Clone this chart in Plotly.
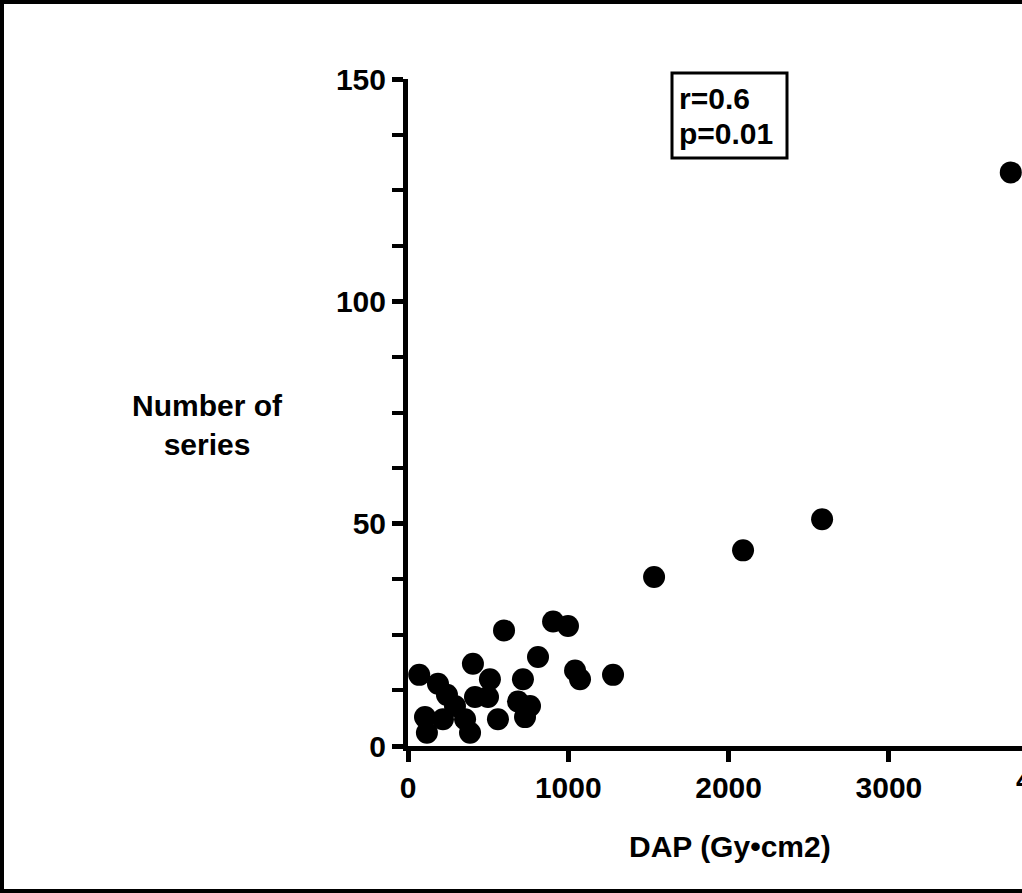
import plotly.graph_objects as go

dap = [70, 106, 118, 187, 218, 243, 293, 356, 387, 405, 418, 499, 511, 561, 599,
       686, 717, 730, 761, 811, 905, 998, 1042, 1073, 1279, 1535, 2090, 2583, 3760]
series = [16, 6.5, 3, 14, 6, 11.5, 9, 6, 3, 18.5, 11, 11, 15, 6, 26,
          10, 15, 6.5, 9, 20, 28, 27, 17, 15, 16, 38, 44, 51, 129]

x_ticks = [0, 1000, 2000, 3000]
y_ticks = [0, 50, 100, 150]
x_cut_tick = 4000  # tick beyond the cropped right edge

FONT = "Liberation Sans, Arial, Helvetica, sans-serif"

fig = go.Figure(go.Scatter(
    x=dap, y=series, mode="markers",
    marker=dict(size=22, color="black"),
    cliponaxis=False, showlegend=False, hoverinfo="skip",
))

W, H = 1022, 893
L, R, T, B = 408, 0, 79, 147
pw, ph = W - L - R, H - T - B
XMAX = 3830

def px(xp):
    return (xp - L) / pw

def py(yp):
    return (H - B - yp) / ph

bold = dict(family=FONT, size=30, weight="bold", color="black")

fig.update_layout(
    width=W, height=H,
    margin=dict(l=L, r=R, t=T, b=B),
    paper_bgcolor="white", plot_bgcolor="white",
    font=bold,
    xaxis=dict(
        range=[0, XMAX], tickvals=x_ticks, ticktext=[str(v) for v in x_ticks],
        showgrid=False, zeroline=False, showline=True, linecolor="black", linewidth=5,
        ticks="outside", ticklen=11, tickwidth=5, tickcolor="black",
        tickfont=bold,
    ),
    yaxis=dict(
        range=[0, 150], tickvals=y_ticks, ticktext=[str(v) for v in y_ticks],
        showgrid=False, zeroline=False, showline=True, linecolor="black", linewidth=5,
        ticks="outside", ticklen=11, tickwidth=5, tickcolor="black",
        tickfont=bold,
        minor=dict(dtick=12.5, tick0=0, ticks="outside", ticklen=11, tickwidth=4,
                   tickcolor="black", showgrid=False),
    ),
    annotations=[
        dict(text="Number of<br>series", xref="paper", yref="paper",
             x=px(207), y=py(425), xanchor="center", yanchor="middle",
             showarrow=False, align="center", font=bold),
        dict(text="DAP (Gy•cm2)", xref="paper", yref="paper",
             x=px(730), y=py(846), xanchor="center", yanchor="middle",
             showarrow=False, font=bold),
        dict(text=str(x_cut_tick), xref="paper", yref="paper",
             x=x_cut_tick / XMAX, y=py(780), xanchor="center", yanchor="middle",
             showarrow=False, font=bold),
        dict(text="r=0.6", xref="paper", yref="paper",
             x=px(677), y=py(98), xanchor="left", yanchor="middle",
             showarrow=False, font=bold),
        dict(text="p=0.01", xref="paper", yref="paper",
             x=px(677), y=py(133), xanchor="left", yanchor="middle",
             showarrow=False, font=bold),
    ],
    shapes=[
        dict(type="rect", xref="paper", yref="paper",
             x0=px(672), x1=px(787), y0=py(73), y1=py(158),
             line=dict(color="black", width=3)),
        dict(type="path", xref="paper", yref="paper",
             path=f"M {px(1030)} {py(2)} L {px(2)} {py(2)} L {px(2)} {py(891)} L {px(1030)} {py(891)}",
             line=dict(color="black", width=4)),
    ],
)

fig.write_html(
    "out.html",
    config={"displayModeBar": False},
    post_script="document.body.style.margin='0px';document.body.style.overflow='hidden';",
)
